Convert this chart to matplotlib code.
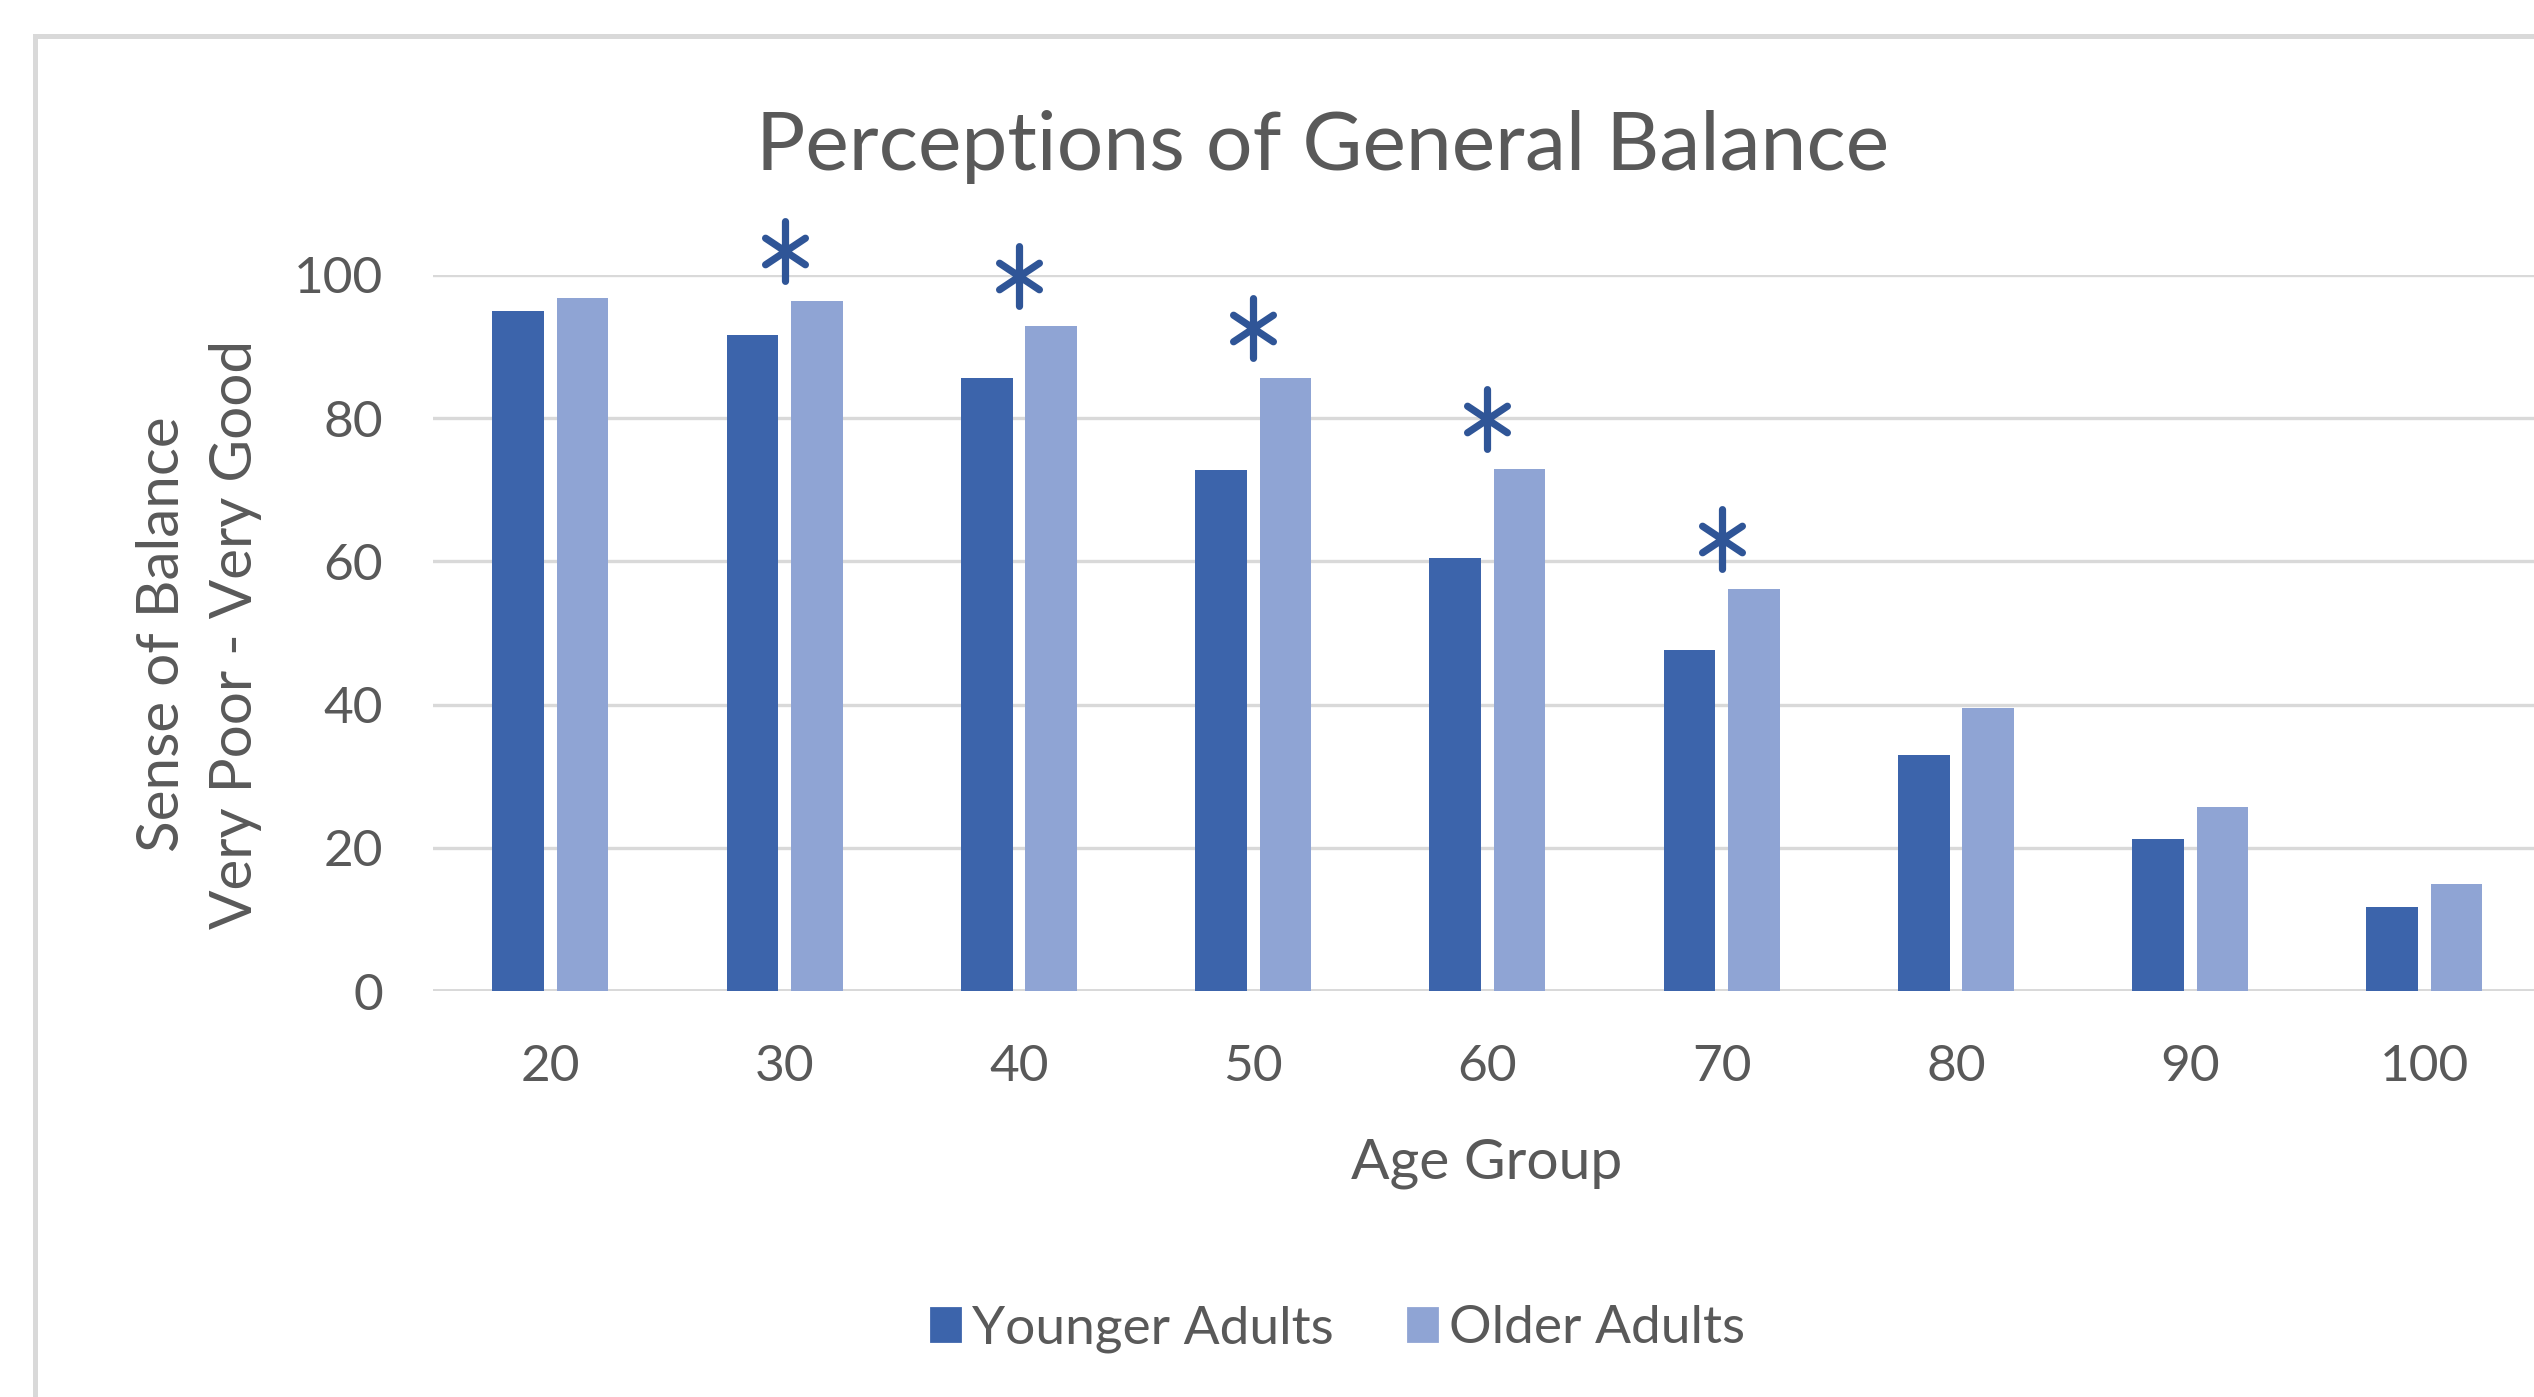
"""
Perceptions of general balance by age group, younger vs older adults.
"""

import numpy as np
import matplotlib
matplotlib.use("Agg")
import matplotlib.pyplot as plt
from matplotlib.patches import Rectangle, Patch
from matplotlib.path import Path
from matplotlib.markers import MarkerStyle

plt.rcParams["font.family"] = ["Lato", "DejaVu Sans"]

# Data
age_groups = ["20", "30", "40", "50", "60", "70", "80", "90", "100"]
younger = [95.0, 91.6, 85.6, 72.7, 60.5, 47.6, 33.0, 21.2, 11.7]
older = [96.8, 96.4, 92.8, 85.6, 72.9, 56.2, 39.5, 25.7, 14.9]
significant = [False, True, True, True, True, True, False, False, False]

DARK = "#3C64AB"
LIGHT = "#8FA4D4"
TEXT = "#595959"
GRID = "#D9D9D9"
STAR = "#2F5597"

fig = plt.figure(figsize=(12.67, 6.985), dpi=200)
ax = fig.add_axes([0.171, 0.2905, 0.832, 0.5127])

x = np.arange(len(age_groups))
w = 0.22
gap = 0.055
ax.bar(x - (w + gap) / 2, younger, w, color=DARK, label="Younger Adults", zorder=3)
ax.bar(x + (w + gap) / 2, older, w, color=LIGHT, label="Older Adults", zorder=3)

# tall six-armed asterisk used for the significance markers
star_path = Path(
    [(0, -45), (0, 45), (-30, -20), (30, 20), (-30, 20), (30, -20)],
    [Path.MOVETO, Path.LINETO, Path.MOVETO, Path.LINETO, Path.MOVETO, Path.LINETO],
)
star = MarkerStyle(star_path, capstyle="round")
sig_x = [xi for xi, s in zip(x, significant) if s]
sig_y = [v + 7 for v, s in zip(older, significant) if s]
ax.plot(sig_x, sig_y, linestyle="none", marker=star, markersize=21.5,
        markeredgewidth=2.6, markeredgecolor=STAR, clip_on=False, zorder=4)

ax.set_xlim(-0.5, len(age_groups) - 0.5)
ax.set_ylim(0, 100)
ax.set_yticks([0, 20, 40, 60, 80, 100])
ax.set_xticks(x)
ax.set_xticklabels(age_groups)
ax.grid(axis="y", color=GRID, linewidth=1.2, zorder=0)
ax.tick_params(axis="both", length=0, labelsize=18.5, colors=TEXT)
ax.tick_params(axis="y", pad=18)
ax.tick_params(axis="x", pad=19)
for s in ax.spines.values():
    s.set_visible(False)
ax.axhline(0, color=GRID, linewidth=1.4, zorder=2)

fig.text(0.522, 0.895, "Perceptions of General Balance", ha="center", va="center",
         fontsize=29.6, color=TEXT)
fig.text(0.5865, 0.167, "Age Group", ha="center", va="center", fontsize=20.5, color=TEXT)
fig.text(0.0785, 0.546, "Sense of Balance\nVery Poor - Very Good", rotation=90,
         ha="center", va="center", multialignment="center", fontsize=21,
         color=TEXT, linespacing=1.45)

handles = [Patch(color=DARK), Patch(color=LIGHT)]
leg = fig.legend(handles, ["Younger Adults", "Older Adults"], loc="center",
                 bbox_to_anchor=(0.528, 0.0486), ncol=2, frameon=False,
                 fontsize=19.2, handlelength=0.55, handleheight=0.55,
                 handletextpad=0.22, columnspacing=1.4)
for t in leg.get_texts():
    t.set_color(TEXT)

# outer chart border (cut off at right/bottom like the source screenshot)
fig.add_artist(Rectangle((0.014, -0.2), 2.0, 0.9745 + 0.2, transform=fig.transFigure,
                         fill=False, edgecolor=GRID, linewidth=1.8))

fig.savefig("out.png", dpi=200)
